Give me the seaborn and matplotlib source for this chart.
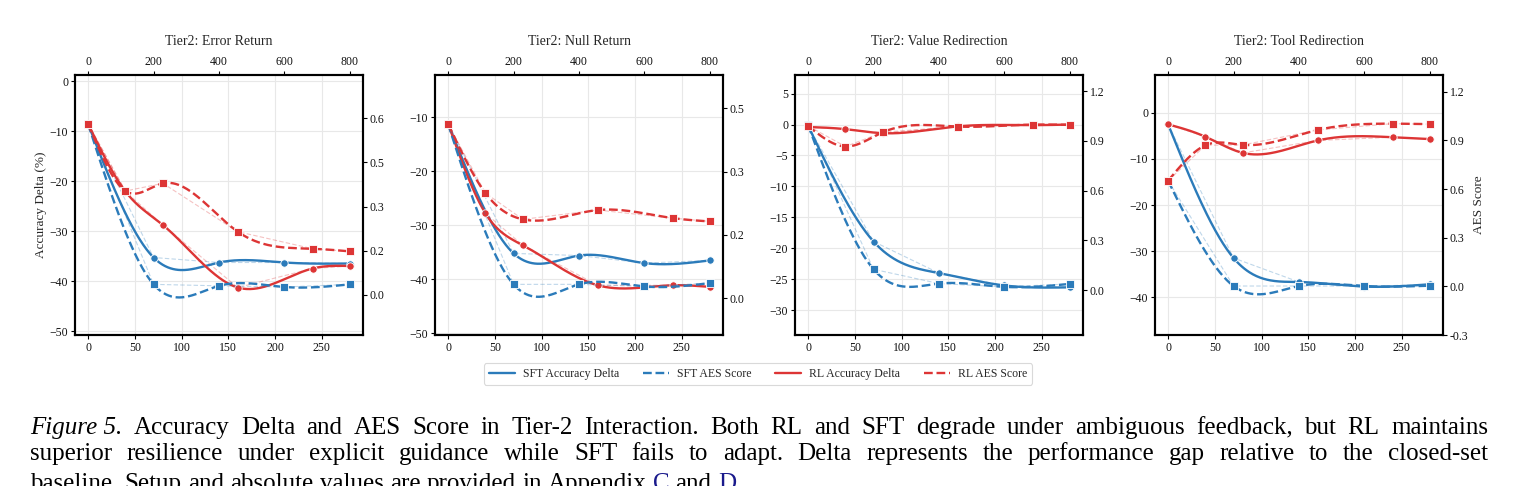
import matplotlib
matplotlib.use("Agg")
import matplotlib.pyplot as plt
from matplotlib.lines import Line2D
import numpy as np
import seaborn as sns

# ---- data ----
panel_titles = ["Tier2: Error Return", "Tier2: Null Return",
                "Tier2: Value Redirection", "Tier2: Tool Redirection"]

sft_steps = [0, 70, 140, 210, 280]
rl_steps = [0, 40, 80, 160, 240, 280]
top_ticks = [0, 200, 400, 600, 800]

sft_acc = [
    [-8.6, -35.3, -36.3, -36.3, -36.5],
    [-11.2, -35.2, -35.6, -37.0, -36.5],
    [-0.2, -18.9, -24.0, -26.0, -26.3],
    [-2.5, -31.5, -36.7, -37.7, -37.2],
]
sft_aes = [
    [0.581, 0.036, 0.031, 0.027, 0.036],
    [0.413, 0.033, 0.033, 0.028, 0.036],
    [0.996, 0.126, 0.040, 0.020, 0.038],
    [0.651, 0.002, 0.002, 0.002, 0.004],
]
rl_acc = [
    [-8.6, -22.1, -28.8, -41.3, -37.5, -37.0],
    [-11.2, -27.8, -33.7, -41.1, -41.1, -41.4],
    [-0.4, -0.75, -1.4, -0.3, -0.1, 0.0],
    [-2.5, -5.2, -8.7, -6.0, -5.3, -5.7],
]
rl_aes = [
    [0.581, 0.353, 0.379, 0.215, 0.157, 0.148],
    [0.413, 0.249, 0.187, 0.209, 0.190, 0.182],
    [0.990, 0.866, 0.952, 0.986, 0.998, 0.996],
    [0.651, 0.870, 0.872, 0.964, 1.003, 1.000],
]

acc_ticks = [
    [0, -10, -20, -30, -40, -50],
    [-10, -20, -30, -40, -50],
    [5, 0, -5, -10, -15, -20, -25, -30],
    [0, -10, -20, -30, -40],
]
acc_lims = [(-50.8, 1.2), (-50.3, -2.2), (-34.0, 8.0), (-48.2, 8.2)]

aes_ticks = [
    [0.0, 0.15, 0.30, 0.45, 0.60],
    [0.0, 0.15, 0.30, 0.45],
    [0.0, 0.3, 0.6, 0.9, 1.2],
    [-0.3, 0.0, 0.3, 0.6, 0.9, 1.2],
]
aes_tick_labels = [
    ["0.0", "0.2", "0.3", "0.5", "0.6"],
    ["0.0", "0.2", "0.3", "0.5"],
    ["0.0", "0.3", "0.6", "0.9", "1.2"],
    ["-0.3", "0.0", "0.3", "0.6", "0.9", "1.2"],
]
aes_lims = [(-0.136, 0.747), (-0.087, 0.529), (-0.27, 1.297), (-0.293, 1.303)]

legend_labels = ["SFT Accuracy Delta", "SFT AES Score", "RL Accuracy Delta", "RL AES Score"]

caption_lines = [
    "Figure 5. Accuracy Delta and AES Score in Tier-2 Interaction. Both RL and SFT degrade under ambiguous feedback, but RL maintains",
    "superior resilience under explicit guidance while SFT fails to adapt. Delta represents the performance gap relative to the closed-set",
    "baseline. Setup and absolute values are provided in Appendix C and D.",
]

BLUE = "#2b7bba"
RED = "#dd3535"
LINK = "#1a1a8c"


def natural_spline(x, y, num=300):
    """Natural cubic spline through the points, for the smooth curves"""
    x = np.asarray(x, float)
    y = np.asarray(y, float)
    n = len(x)
    h = np.diff(x)
    A = np.zeros((n, n))
    r = np.zeros(n)
    A[0, 0] = A[-1, -1] = 1
    for i in range(1, n - 1):
        A[i, i - 1] = h[i - 1]
        A[i, i] = 2 * (h[i - 1] + h[i])
        A[i, i + 1] = h[i]
        r[i] = 3 * ((y[i + 1] - y[i]) / h[i] - (y[i] - y[i - 1]) / h[i - 1])
    c = np.linalg.solve(A, r)
    b = (y[1:] - y[:-1]) / h - h * (2 * c[:-1] + c[1:]) / 3
    d = (c[1:] - c[:-1]) / (3 * h)
    xs = np.linspace(x[0], x[-1], num)
    idx = np.clip(np.searchsorted(x, xs) - 1, 0, n - 2)
    dx = xs - x[idx]
    ys = y[idx] + b[idx] * dx + c[idx] * dx ** 2 + d[idx] * dx ** 3
    return xs, ys


def draw_series(ax, steps, vals, color, ls, marker, ms):
    # faint raw connection
    sns.lineplot(x=steps, y=vals, ax=ax, color=color, lw=0.8, alpha=0.3,
                 linestyle=(0, (4, 2)), estimator=None, legend=False, zorder=2)
    xs, ys = natural_spline(steps, vals)
    ax.plot(xs, ys, color=color, lw=1.7, linestyle=ls, zorder=3)
    sns.scatterplot(x=steps, y=vals, ax=ax, color=color, marker=marker, s=ms,
                    edgecolor="white", linewidth=0.6, zorder=4, legend=False)


sns.set_theme(style="whitegrid")
plt.rcParams["font.family"] = ["Liberation Serif", "DejaVu Serif"]
plt.rcParams["axes.unicode_minus"] = True

W, H = 1519, 486
fig = plt.figure(figsize=(W / 100, H / 100), dpi=100)

panel_lefts = [75, 435, 795, 1155]
pw, top, bot = 288, 75, 335

for i, left in enumerate(panel_lefts):
    ax = fig.add_axes([left / W, 1 - bot / H, pw / W, (bot - top) / H])
    ax2 = ax.twinx()

    draw_series(ax, sft_steps, sft_acc[i], BLUE, "-", "o", 28)
    draw_series(ax, rl_steps, rl_acc[i], RED, "-", "o", 28)
    draw_series(ax2, sft_steps, sft_aes[i], BLUE, "--", "s", 32)
    draw_series(ax2, rl_steps, rl_aes[i], RED, "--", "s", 32)

    ax.set_xlim(-14, 294)
    ax.set_xticks([0, 50, 100, 150, 200, 250])
    ax.set_ylim(*acc_lims[i])
    ax.set_yticks(acc_ticks[i])
    ax2.set_ylim(*aes_lims[i])
    ax2.set_yticks(aes_ticks[i])
    ax2.set_yticklabels(aes_tick_labels[i])

    ax.grid(True, color="#e8e8e8", lw=0.8)
    ax2.grid(False)

    sec = ax.secondary_xaxis("top", functions=(lambda x: x * 800 / 280,
                                                lambda x: x * 280 / 800))
    sec.set_xticks(top_ticks)

    for a in (ax, ax2):
        for sp in a.spines.values():
            sp.set_color("black")
            sp.set_linewidth(1.5)
    sec.spines["top"].set_visible(False)

    ax.tick_params(axis="both", which="both", bottom=True, left=True,
                   length=3, width=0.8, color="black", labelsize=8.5, pad=2,
                   labelcolor="#111111")
    ax2.tick_params(axis="y", right=True, length=3, width=0.8, color="black",
                    labelsize=8.5, pad=2, labelcolor="#111111")
    sec.tick_params(axis="x", top=True, length=3, width=0.8, color="black",
                    labelsize=8.5, pad=2, labelcolor="#111111")

    ax.set_title(panel_titles[i], fontsize=10, pad=8)
    if i == 0:
        ax.set_ylabel("Accuracy Delta (%)", fontsize=9.5, labelpad=2)
    if i == 3:
        ax2.set_ylabel("AES Score", fontsize=9.5, labelpad=3)

# legend
handles = [
    Line2D([], [], color=BLUE, lw=1.7, ls="-"),
    Line2D([], [], color=BLUE, lw=1.7, ls="--"),
    Line2D([], [], color=RED, lw=1.7, ls="-"),
    Line2D([], [], color=RED, lw=1.7, ls="--"),
]
leg = fig.legend(handles, legend_labels, loc="center", bbox_to_anchor=(758 / W, 1 - 374 / H),
                 ncol=4, fontsize=8.5, frameon=True, handlelength=2.2,
                 columnspacing=2.0, handletextpad=0.7, borderpad=0.4)
leg.get_frame().set_edgecolor("#d0d0d0")
leg.get_frame().set_linewidth(0.8)

# caption, justified like the paper
renderer = fig.canvas.get_renderer()
x0, x1 = 30, 1488
baselines = [434, 459.5, 490]
cap_fs = 18


def make_tokens():
    line1 = caption_lines[0].split(" ")
    tok1 = [(" ".join(line1[:2]), "italic", "black", False)] + \
           [(w, "normal", "black", False) for w in line1[2:]]
    tok2 = [(w, "normal", "black", False) for w in caption_lines[1].split(" ")]
    tok3 = []
    for w in caption_lines[2].split(" "):
        if w == "C":
            tok3.append((w, "normal", LINK, False))
        elif w == "D.":
            tok3.append(("D", "normal", LINK, False))
            tok3.append((".", "normal", "black", True))
        else:
            tok3.append((w, "normal", "black", False))
    return [tok1, tok2, tok3]


def place_tokens(tokens, y_px, fs, justify):
    texts, widths = [], []
    for s, style, color, glue in tokens:
        t = fig.text(0, 1 - y_px / H, s, fontsize=fs, style=style, color=color,
                     ha="left", va="baseline")
        texts.append(t)
        widths.append(t.get_window_extent(renderer).width)
    n_gaps = sum(1 for tk in tokens[1:] if not tk[3])
    space = fs * 100 / 72 * 0.25
    if justify and n_gaps:
        space = (x1 - x0 - sum(widths)) / n_gaps
    x = x0
    for k, (t, w) in enumerate(zip(texts, widths)):
        if k > 0 and not tokens[k][3]:
            x += space
        t.set_x(x / W)
        x += w


lines = make_tokens()
place_tokens(lines[0], baselines[0], cap_fs, True)
place_tokens(lines[1], baselines[1], cap_fs, True)
place_tokens(lines[2], baselines[2], cap_fs, False)

fig.savefig("out.png", dpi=100)
